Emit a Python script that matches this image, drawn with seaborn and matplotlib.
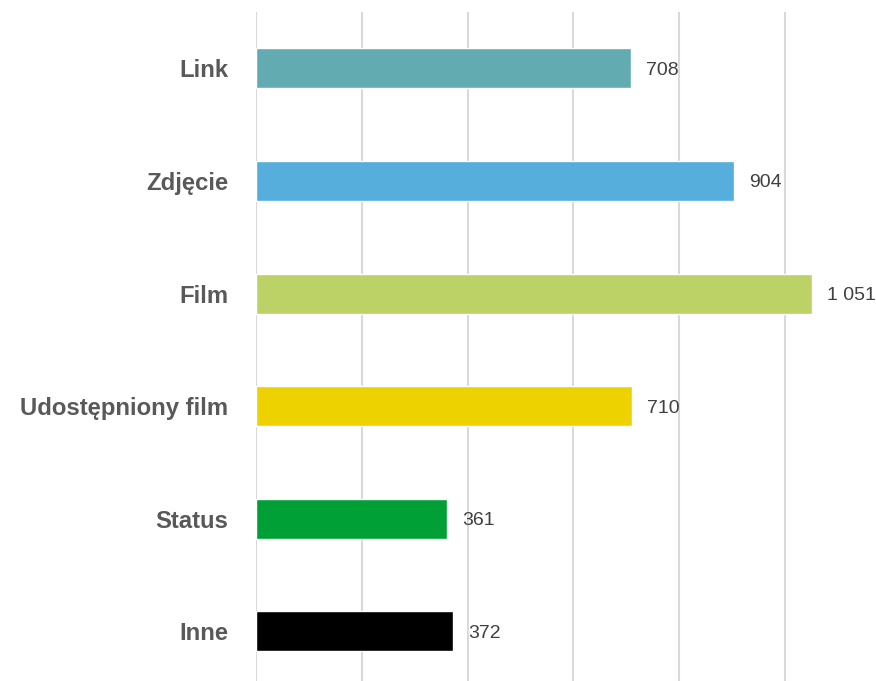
import matplotlib
matplotlib.use("Agg")
import matplotlib.pyplot as plt
import seaborn as sns
import pandas as pd
from matplotlib import font_manager

categories = ["Link", "Zdjęcie", "Film", "Udostępniony film", "Status", "Inne"]
values = [708, 904, 1051, 710, 361, 372]
colors = ["#62ABB0", "#55AEDC", "#BCD166", "#EED200", "#00A036", "#000000"]
value_labels = ["708", "904", "1 051", "710", "361", "372"]

sns.set_theme(style="white")
names = {f.name for f in font_manager.fontManager.ttflist}
fam = ["Liberation Sans Narrow", "DejaVu Sans"] if "Liberation Sans Narrow" in names else ["Liberation Sans", "DejaVu Sans"]
plt.rcParams["font.family"] = fam

df = pd.DataFrame({"cat": categories, "val": values})

fig = plt.figure(figsize=(8.76, 6.81), dpi=100)
ax = fig.add_axes([256/876, 0, 620/876, 669/681])
sns.barplot(data=df, y="cat", x="val", hue="cat", palette=colors, orient="h",
            width=0.355, legend=False, ax=ax, saturation=1)

ax.set_xlim(0, 1172)
ax.set_ylim(5.44, -0.5)
ax.set_xticks([0, 200, 400, 600, 800, 1000])
ax.xaxis.grid(True, color="#D9D9D9", linewidth=1.5)
ax.set_axisbelow(True)
ax.tick_params(axis="x", length=0, labelbottom=False)
ax.tick_params(axis="y", length=0, pad=20)
for s in ax.spines.values():
    s.set_visible(False)
ax.set_xlabel("")
ax.set_ylabel("")
for lbl in ax.get_yticklabels():
    lbl.set_fontsize(17.2)
    lbl.set_fontweight("bold")
    lbl.set_color("#595959")

for i, (v, t) in enumerate(zip(values, value_labels)):
    ax.annotate(t, xy=(v, i), xytext=(15, 0), textcoords="offset pixels",
                va="center_baseline", ha="left", fontsize=14, color="#404040")

fig.savefig("out.png", dpi=100)
